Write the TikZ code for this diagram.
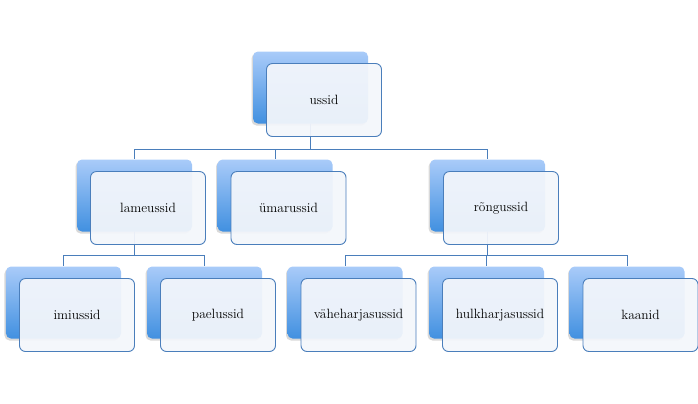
\documentclass[tikz,border=0pt]{standalone}
\usepackage{fontspec}
\usepackage{xcolor,tikz}
\usetikzlibrary{positioning,shadows,calc}
\definecolor{bluetop}{HTML}{A9CBF9}
\definecolor{bluebot}{HTML}{4190E0}
\definecolor{rim}{HTML}{4A7EBB}
\definecolor{pane}{HTML}{F3F6FB}
\tikzset{bk/.style={rounded corners=5bp,minimum width=115bp,minimum height=72bp,inner sep=0pt,
   top color=bluetop,bottom color=bluebot,
   drop shadow={shadow xshift=-1.5bp,shadow yshift=-2bp,opacity=.3}},
 fr/.style={draw=rim,line width=.9bp,rounded corners=6bp,fill=pane,fill opacity=.94,text opacity=1,
   minimum width=115bp,minimum height=73bp,inner sep=0pt,font=\fontsize{13.5}{16}\selectfont},
 conn/.style={draw=rim,line width=.9bp}}
\begin{document}
\begin{tikzpicture}[x=1bp,y=-1bp]
\useasboundingbox (0,0) rectangle (698,403);
% back panes
\foreach \n/\x/\y in {ussid/310.5/87.5,lame/134.5/195.5,umar/275/195.5,rong/487.5/195.5,
  imi/63.5/302.5,pael/204.5/302.5,vahe/345/302.5,hulk/486.5/302.5,kaan/627/302.5}
 \node[bk] (b-\n) at (\x,\y){};
% connectors
\draw[conn](b-ussid.south)--++(0,26)-|(b-lame.north);
\draw[conn](b-ussid.south)--++(0,26)-|(b-umar.north);
\draw[conn](b-ussid.south)--++(0,26)-|(b-rong.north);
\draw[conn](b-lame.south)--++(0,23.5)-|(b-imi.north);
\draw[conn](b-lame.south)--++(0,23.5)-|(b-pael.north);
\draw[conn](b-rong.south)--++(0,23.5)-|(b-vahe.north);
\draw[conn](b-rong.south)--++(0,23.5)-|(b-hulk.north);
\draw[conn](b-rong.south)--++(0,23.5)-|(b-kaan.north);
% front panes
\foreach \n/\t in {ussid/ussid,lame/lameussid,umar/ümarussid,rong/rõngussid,imi/imiussid,
  pael/paelussid,vahe/väheharjasussid,hulk/hulkharjasussid,kaan/kaanid}
 \node[fr] (\n) at ([shift={(13.5,12.5)}]b-\n.center){\t};
\end{tikzpicture}
\end{document}
